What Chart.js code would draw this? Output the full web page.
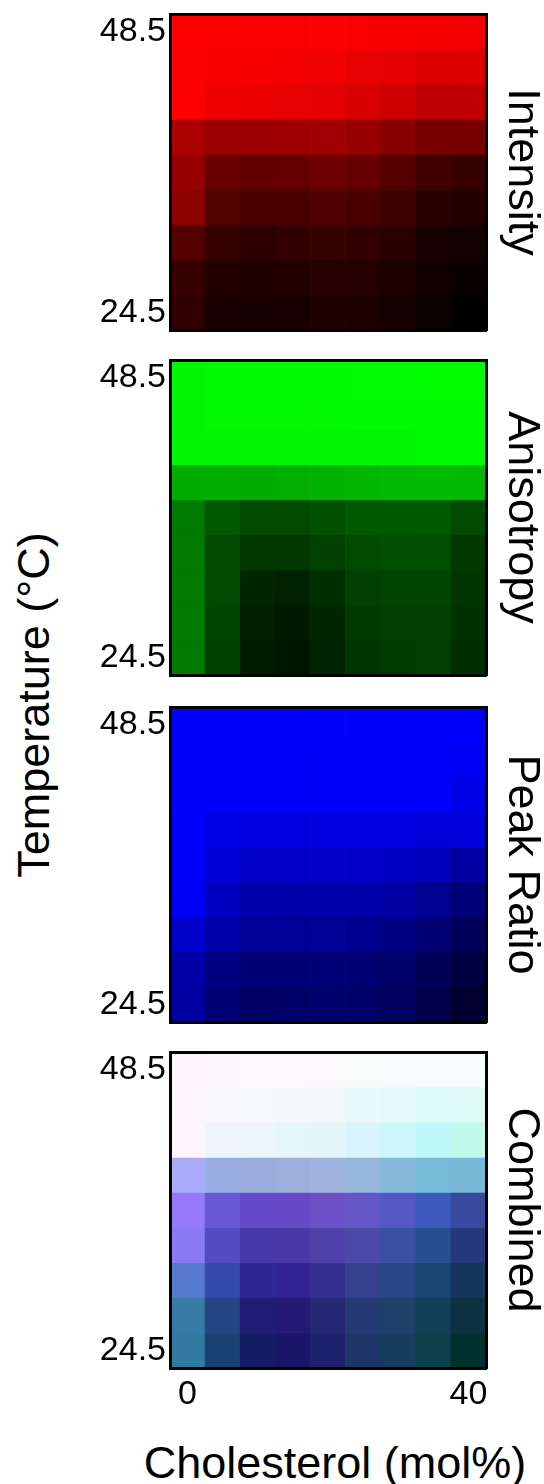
<!DOCTYPE html>
<html>
<head>
<meta charset="utf-8">
<title>Cholesterol / temperature maps</title>
<style>
  body {
    margin: 0;
    background: #fff;
    width: 544px;
    height: 1484px;
    position: relative;
    overflow: hidden;
    font-family: "Liberation Sans", Arial, Helvetica, sans-serif;
  }
  canvas { position: absolute; left: 0; }
  .axisTitle {
    position: absolute;
    height: 54px;
    line-height: 54px;
    font-size: 45px;
    text-align: center;
    color: #000;
    white-space: nowrap;
  }
  #yTitle { width: 420px; left: -176px; top: 678px; transform: rotate(-90deg); }
  #xTitle { width: 400px; left: 135px; top: 1436px; }
</style>
<script src="https://cdn.jsdelivr.net/npm/chart.js@4.4.1/dist/chart.umd.min.js"></script>
</head>
<body>
<div id="yTitle" class="axisTitle">Temperature (°C)</div>
<div id="xTitle" class="axisTitle">Cholesterol (mol%)</div>
<canvas id="intensityCanvas" width="544" height="344" style="top:0px"></canvas>
<canvas id="anisotropyCanvas" width="544" height="343" style="top:346px"></canvas>
<canvas id="peakRatioCanvas" width="544" height="343" style="top:693px"></canvas>
<canvas id="combinedCanvas" width="544" height="446" style="top:1038px"></canvas>

<script>
// ===== 資料 =====
const cholesterol = [0, 5, 10, 15, 20, 25, 30, 35, 40]; // mol%
// rows are listed top to bottom, same order as the matrices below
const temperatures = [48.5, 45.5, 42.5, 39.5, 36.5, 33.5, 30.5, 27.5, 24.5];
const xTicks = [0, 40];
const yTicks = [24.5, 48.5];
const panelNames = ["Intensity", "Anisotropy", "Peak Ratio", "Combined"];

// channel values 0-255, one row per temperature, one column per cholesterol
const intensity = [
  [255, 253, 252, 252, 252, 250, 248, 246, 245],
  [252, 248, 246, 245, 240, 233, 228, 220, 222],
  [255, 238, 235, 230, 228, 215, 205, 190, 192],
  [170, 155, 155, 158, 160, 150, 135, 118, 120],
  [150, 105, 98, 100, 108, 100, 85, 62, 55],
  [140, 82, 72, 75, 80, 75, 60, 40, 35],
  [85, 52, 45, 50, 52, 50, 42, 25, 20],
  [55, 35, 32, 35, 38, 36, 30, 18, 10],
  [50, 25, 22, 25, 30, 30, 22, 12, 0],
];

const anisotropy = [
  [246, 248, 250, 250, 250, 252, 252, 253, 254],
  [245, 248, 248, 248, 248, 250, 250, 250, 250],
  [245, 245, 245, 245, 245, 245, 245, 248, 250],
  [172, 174, 172, 175, 178, 182, 185, 188, 185],
  [122, 88, 74, 74, 80, 88, 88, 90, 74],
  [122, 74, 56, 56, 64, 74, 80, 80, 56],
  [122, 74, 40, 34, 48, 64, 69, 69, 53],
  [122, 69, 30, 26, 40, 58, 64, 64, 50],
  [122, 66, 28, 21, 34, 53, 60, 64, 48],
];

const peakRatio = [
  [252, 252, 252, 252, 252, 252, 252, 252, 252],
  [252, 250, 250, 250, 250, 250, 250, 250, 245],
  [252, 250, 250, 250, 250, 250, 250, 250, 232],
  [250, 228, 222, 222, 222, 222, 222, 218, 216],
  [250, 212, 200, 198, 200, 198, 196, 188, 160],
  [245, 192, 170, 168, 170, 168, 162, 145, 120],
  [205, 170, 148, 148, 146, 142, 132, 115, 92],
  [165, 130, 116, 116, 118, 114, 106, 88, 64],
  [160, 115, 100, 104, 108, 104, 94, 74, 46],
];

// ===== 版面 =====
const canvasIds = ["intensityCanvas", "anisotropyCanvas", "peakRatioCanvas", "combinedCanvas"];
const fontFamily = '"Liberation Sans", Arial, Helvetica, sans-serif';
const edge = { color: "#000", width: 3, z: 1 };

// the Combined panel merges the three channels into one colour
function cellColor(panel, i, j) {
  const r = intensity[i][j];
  const g = anisotropy[i][j];
  const b = peakRatio[i][j];
  if (panel === 0) return `rgb(${r},0,0)`;
  if (panel === 1) return `rgb(0,${g},0)`;
  if (panel === 2) return `rgb(0,0,${b})`;
  return `rgb(${r},${g},${b})`;
}

// 去掉刻度文字自動加的留白
function noScalePadding(s) {
  s.paddingTop = 0;
  s.paddingBottom = 0;
  s.paddingLeft = 0;
  s.paddingRight = 0;
}

function drawPanel(panel) {
  const canvas = document.getElementById(canvasIds[panel]);
  if (!canvas) return;
  const isLast = panel === canvasIds.length - 1;

  const tStep = Math.abs(temperatures[0] - temperatures[1]);
  const cStep = cholesterol[1] - cholesterol[0];

  // one floating-bar dataset per temperature row
  const datasets = temperatures.map((t, i) => ({
    data: cholesterol.map((c) => ({ x: c, y: [t - tStep / 2, t + tStep / 2] })),
    backgroundColor: cholesterol.map((c, j) => cellColor(panel, i, j)),
    borderWidth: 0,
    barPercentage: 1,
    categoryPercentage: 1,
    grouped: false,
    xAxisID: "x",
    yAxisID: "y",
  }));

  new Chart(canvas, {
    type: "bar",
    data: { datasets },
    options: {
      responsive: false,
      animation: false,
      devicePixelRatio: 1,
      layout: { padding: { top: 14, bottom: isLast ? 0 : 14, left: 0, right: 0 } },
      plugins: {
        legend: { display: false },
        tooltip: { enabled: false },
      },
      scales: {
        x: {
          type: "linear",
          axis: "x",
          position: "bottom",
          offset: false,
          min: Math.min(...cholesterol) - cStep / 2,
          max: Math.max(...cholesterol) + cStep / 2,
          afterBuildTicks: (s) => { s.ticks = xTicks.map((v) => ({ value: v })); },
          afterFit: (s) => { s.height = isLast ? 116 : 0; noScalePadding(s); },
          grid: { display: false, drawTicks: false, offset: false },
          border: edge,
          ticks: {
            display: isLast,
            autoSkip: false,
            maxRotation: 0,
            padding: 6,
            color: "#000",
            font: { family: fontFamily, size: 34 },
            callback: (v) => String(v),
          },
        },
        xTop: {
          type: "linear",
          axis: "x",
          position: "top",
          afterFit: (s) => { s.height = 0; noScalePadding(s); },
          grid: { display: false, drawTicks: false },
          border: edge,
          ticks: { display: false },
        },
        y: {
          type: "linear",
          axis: "y",
          position: "left",
          min: Math.min(...temperatures) - tStep / 2,
          max: Math.max(...temperatures) + tStep / 2,
          afterBuildTicks: (s) => { s.ticks = yTicks.map((v) => ({ value: v })); },
          afterFit: (s) => { s.width = 170; noScalePadding(s); },
          grid: { display: false, drawTicks: false },
          border: edge,
          ticks: {
            autoSkip: false,
            padding: 4,
            color: "#000",
            font: { family: fontFamily, size: 34 },
            callback: (v) => v.toFixed(1),
          },
        },
        yRight: {
          type: "linear",
          axis: "y",
          position: "right",
          afterFit: (s) => { s.width = 58; noScalePadding(s); },
          grid: { display: false, drawTicks: false },
          border: edge,
          ticks: { display: false },
          title: {
            display: true,
            text: panelNames[panel],
            color: "#000",
            padding: 0,
            font: { family: fontFamily, size: 45, lineHeight: 1 },
          },
        },
      },
    },
  });
}

canvasIds.forEach((id, p) => drawPanel(p));
</script>
</body>
</html>
